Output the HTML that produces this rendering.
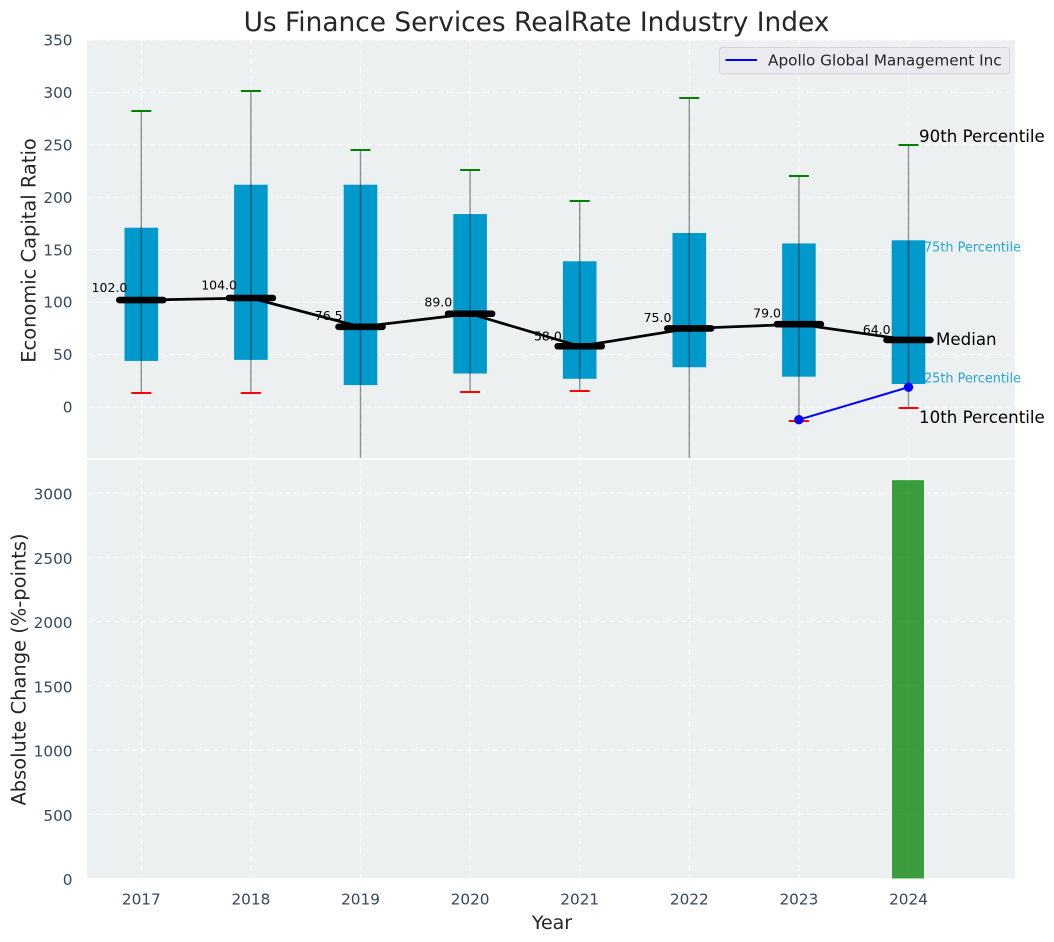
<!DOCTYPE html>
<html>
<head>
<meta charset="utf-8">
<title>Us Finance Services RealRate Industry Index</title>
<style>
html,body{margin:0;padding:0;background:#fff;width:1054px;height:942px;overflow:hidden}
svg{display:block;font-family:"DejaVu Sans","Liberation Sans",sans-serif}
</style>
</head>
<body>
<svg id="chart" width="1054" height="942" viewBox="0 0 1054 942" xmlns="http://www.w3.org/2000/svg">
  <defs>
    <clipPath id="top-clip"><rect x="87" y="40" width="928" height="418"/></clipPath>
    <clipPath id="bottom-clip"><rect x="87" y="460" width="928" height="418.5"/></clipPath>
  </defs>
  <rect x="87" y="40" width="928" height="418" fill="#ecf0f1"/>
  <rect x="87" y="460" width="928" height="418.5" fill="#ecf0f1"/>
  <g id="top-grid"></g>
  <g id="bottom-grid"></g>
  <g id="top-marks" clip-path="url(#top-clip)"></g>
  <g id="bottom-marks" clip-path="url(#bottom-clip)"></g>
  <g id="tick-labels"></g>
  <g id="median-labels"></g>

  <text x="536.5" y="31" font-size="26.4" fill="#262626" text-anchor="middle">Us Finance Services RealRate Industry Index</text>
  <text transform="translate(35.5,250.5) rotate(-90)" font-size="19.44" fill="#262626" text-anchor="middle">Economic Capital Ratio</text>
  <text transform="translate(25.5,669.5) rotate(-90)" font-size="19.44" fill="#262626" text-anchor="middle">Absolute Change (%-points)</text>
  <text x="552" y="929" font-size="19" fill="#262626" text-anchor="middle">Year</text>

  <g>
    <rect x="719.5" y="47.5" width="290" height="26.5" rx="3" fill="#eaebf0" stroke="#d4d5d9" stroke-width="1"/>
    <line x1="725.5" y1="60" x2="757" y2="60" stroke="#0000ff" stroke-width="2"/>
    <text x="768" y="65.5" font-size="15.28" fill="#262626">Apollo Global Management Inc</text>
  </g>

  <text x="919" y="142" font-size="16.67" fill="#000">90th Percentile</text>
  <text x="924" y="251.5" font-size="12.85" fill="#0099cc" fill-opacity="0.85">75th Percentile</text>
  <text x="936" y="345" font-size="16.67" fill="#000">Median</text>
  <text x="924" y="382.5" font-size="12.85" fill="#0099cc" fill-opacity="0.85">25th Percentile</text>
  <text x="919" y="423" font-size="16.67" fill="#000">10th Percentile</text>
</svg>
<script>
const years = [2017, 2018, 2019, 2020, 2021, 2022, 2023, 2024];
const p90 = [282, 301, 245, 226, 196, 295, 220, 250];
const p75 = [171, 212, 212, 184, 139, 166, 156, 159];
const medians = [102, 104, 76.5, 89, 58, 75, 79, 64];
const medianLabels = ["102.0", "104.0", "76.5", "89.0", "58.0", "75.0", "79.0", "64.0"];
const p25 = [44, 45, 21, 32, 27, 38, 29, 22];
const p10 = [13, 13, -70, 14, 15, -70, -13, -1];
const companyYears = [2023, 2024];
const companyValues = [-12, 19];
const changeYears = [2024];
const changeValues = [3100];
const topTicks = [0, 50, 100, 150, 200, 250, 300, 350];
const bottomTicks = [0, 500, 1000, 1500, 2000, 2500, 3000];

const NS = 'http://www.w3.org/2000/svg';
function xScale(v) { return 141.3 + (v - 2017) * 109.6; }
function yTop(v) { return 407.1 - v * 1.049; }
function yBottom(v) { return 878.5 - v * 0.1285; }
function labelY(v) { return yTop(v * 1.06 + 5.6) + 4; }

function make(tag, parent, props) {
  const el = document.createElementNS(NS, tag);
  for (const k in props) el.setAttribute(k, props[k]);
  parent.appendChild(el);
  return el;
}

const topGrid = document.getElementById('top-grid');
const bottomGrid = document.getElementById('bottom-grid');
const topMarks = document.getElementById('top-marks');
const bottomMarks = document.getElementById('bottom-marks');
const tickLabels = document.getElementById('tick-labels');
const medianGroup = document.getElementById('median-labels');
const gridStyle = { stroke: '#ffffff', 'stroke-width': 1, 'stroke-dasharray': '6 3', 'stroke-opacity': 0.85 };

years.forEach(function (yr) {
  const x = xScale(yr);
  const a = make('line', topGrid, Object.assign({ x1: x, x2: x, y1: 40, y2: 458 }, gridStyle));
  
  
  const b = make('line', bottomGrid, Object.assign({ x1: x, x2: x, y1: 460, y2: 878.5 }, gridStyle));
  
  
  const t = make('text', tickLabels, { x: x, y: 904.5, 'font-size': 15.28, fill: '#34495e', 'text-anchor': 'middle' });
  t.textContent = String(yr);
  
  
});

topTicks.forEach(function (v) {
  const y = yTop(v);
  const g = make('line', topGrid, Object.assign({ x1: 87, x2: 1015, y1: y, y2: y }, gridStyle));
  
  
  const t = make('text', tickLabels, { x: 72.5, y: y + 5.5, 'font-size': 15.28, fill: '#34495e', 'text-anchor': 'end' });
  t.textContent = String(v);
  
  
});

bottomTicks.forEach(function (v) {
  const y = yBottom(v);
  const g = make('line', bottomGrid, Object.assign({ x1: 87, x2: 1015, y1: y, y2: y }, gridStyle));
  
  
  const t = make('text', tickLabels, { x: 72.5, y: y + 6.5, 'font-size': 15.28, fill: '#34495e', 'text-anchor': 'end' });
  t.textContent = String(v);
  
  
});

years.forEach(function (yr, i) {
  const x = xScale(yr);
  const box = make('rect', topMarks, { x: x - 16.8, y: yTop(p75[i]), width: 33.6, height: yTop(p25[i]) - yTop(p75[i]), fill: '#0099cc' });
  
  
  const whisker = make('line', topMarks, { x1: x, x2: x, y1: yTop(p90[i]), y2: yTop(p10[i]), stroke: '#000', 'stroke-width': 1.4, 'stroke-opacity': 0.42 });
  
  
  const capHigh = make('rect', topMarks, { x: x - 10, y: Math.round(yTop(p90[i])) - 1, width: 20, height: 2, fill: '#008000' });
  
  
  const capLow = make('rect', topMarks, { x: x - 10, y: Math.round(yTop(p10[i])) - 1, width: 20, height: 2, fill: '#ff0000' });
  
  
});

const medianPath = make('polyline', topMarks, {
  points: years.map(function (yr, i) { return xScale(yr) + ',' + yTop(medians[i]); }).join(' '),
  fill: 'none', stroke: '#000', 'stroke-width': 2.7
});



years.forEach(function (yr, i) {
  const x = xScale(yr);
  const y = yTop(medians[i]);
  const m = make('line', topMarks, { x1: x - 22, x2: x + 22, y1: y, y2: y, stroke: '#000', 'stroke-width': 6.6, 'stroke-linecap': 'round' });
  
  
  const t = make('text', medianGroup, { x: x - 31.8, y: labelY(medians[i]), 'font-size': 12.5, fill: '#000', 'text-anchor': 'middle' });
  t.textContent = medianLabels[i];
  
  
});

const companyPath = make('polyline', topMarks, {
  points: companyYears.map(function (yr, i) { return xScale(yr) + ',' + yTop(companyValues[i]); }).join(' '),
  fill: 'none', stroke: '#0000ff', 'stroke-width': 2
});



companyYears.forEach(function (yr, i) {
  const c = make('circle', topMarks, { cx: xScale(yr), cy: yTop(companyValues[i]), r: 4.7, fill: '#0000ff' });
  
  
});

changeYears.forEach(function (yr, i) {
  const r = make('rect', bottomMarks, { x: xScale(yr) - 16.5, y: yBottom(changeValues[i]), width: 32, height: yBottom(0) - yBottom(changeValues[i]), fill: '#008000', 'fill-opacity': 0.75 });
  
  
});
</script>
</body>
</html>
